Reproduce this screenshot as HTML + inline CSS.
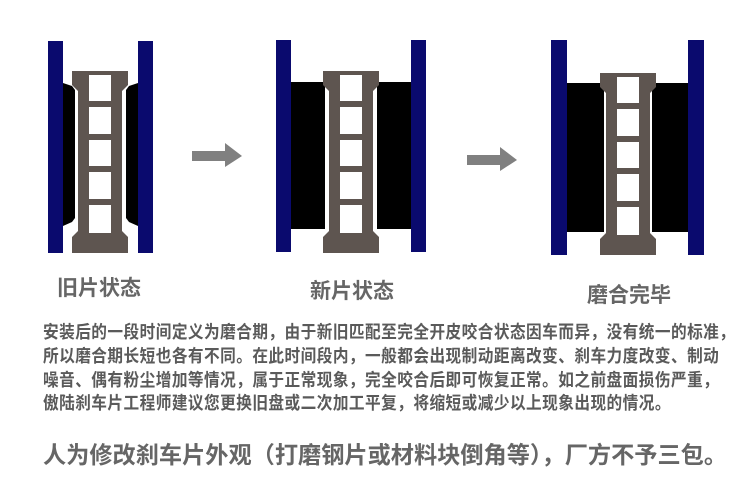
<!DOCTYPE html>
<html><head><meta charset="utf-8"><style>
html,body{margin:0;padding:0;background:#fff;}
body{width:750px;height:500px;position:relative;overflow:hidden;font-family:"Liberation Sans","Noto Sans CJK SC",sans-serif;}
.t{position:absolute;white-space:nowrap;font-weight:bold;}
.lab{font-size:21px;color:#666;}
.p{left:43px;font-size:17.4px;color:#5a5a5a;letter-spacing:0.5px;transform:scaleX(0.9);transform-origin:0 0;}
</style></head><body>
<svg width="750" height="500" style="position:absolute;left:0;top:0">
<defs>
<g id="rotor">
<path d="M0 0 H56 V14 L50 20 V160 L56 166 V182 H0 V166 L6 160 V20 L0 14 Z" fill="#5e5550"/>
<rect x="17" y="4" width="22" height="26" fill="#fff"/>
<rect x="17" y="36" width="22" height="27" fill="#fff"/>
<rect x="17" y="69" width="22" height="26" fill="#fff"/>
<rect x="17" y="101" width="22" height="27" fill="#fff"/>
<rect x="17" y="134" width="22" height="28" fill="#fff"/>
</g>
</defs>
<rect x="48" y="41" width="15" height="212" fill="#0a0a6e"/>
<rect x="138" y="41" width="15" height="212" fill="#0a0a6e"/>
<path d="M63 83 L72 86 L75 90 V218 L72 222 L63 226 Z" fill="#000"/>
<path d="M138 83 L129 86 L126 90 V218 L129 222 L138 226 Z" fill="#000"/>
<use href="#rotor" x="72" y="71"/>
<path d="M192 151 H225 V143 L242 156 L225 167 V161 H192 Z" fill="#808080"/>
<rect x="276" y="40" width="15" height="212" fill="#0a0a6e"/>
<rect x="411" y="40" width="15" height="212" fill="#0a0a6e"/>
<rect x="291" y="82" width="34" height="147" fill="#000"/>
<rect x="377" y="82" width="34" height="147" fill="#000"/>
<use href="#rotor" x="323" y="71"/>
<path d="M467 155 H500 V147 L517 160 L500 171 V165 H467 Z" fill="#808080"/>
<rect x="551" y="40" width="16" height="215" fill="#0a0a6e"/>
<rect x="688" y="40" width="16" height="215" fill="#0a0a6e"/>
<rect x="567" y="83" width="37" height="149" fill="#000"/>
<rect x="652" y="83" width="36" height="149" fill="#000"/>
<use href="#rotor" x="600" y="73"/>
</svg>
<div class="t lab" style="left:57px;top:272px;">旧片状态</div>
<div class="t lab" style="left:310px;top:275px;">新片状态</div>
<div class="t lab" style="left:587px;top:279px;">磨合完毕</div>
<div class="t p" style="top:319px;">安装后的一段时间定义为磨合期，由于新旧匹配至完全开皮咬合状态因车而异，没有统一的标准，</div>
<div class="t p" style="top:343px;">所以磨合期长短也各有不同。在此时间段内，一般都会出现制动距离改变、刹车力度改变、制动</div>
<div class="t p" style="top:367px;">噪音、偶有粉尘增加等情况，属于正常现象，完全咬合后即可恢复正常。如之前盘面损伤严重，</div>
<div class="t p" style="top:390px;">傲陆刹车片工程师建议您更换旧盘或二次加工平复，将缩短或减少以上现象出现的情况。</div>
<div class="t" style="left:43px;top:436px;font-size:23.2px;color:#666;">人为修改刹车片外观（打磨钢片或材料块倒角等），厂方不予三包。</div>
</body></html>
